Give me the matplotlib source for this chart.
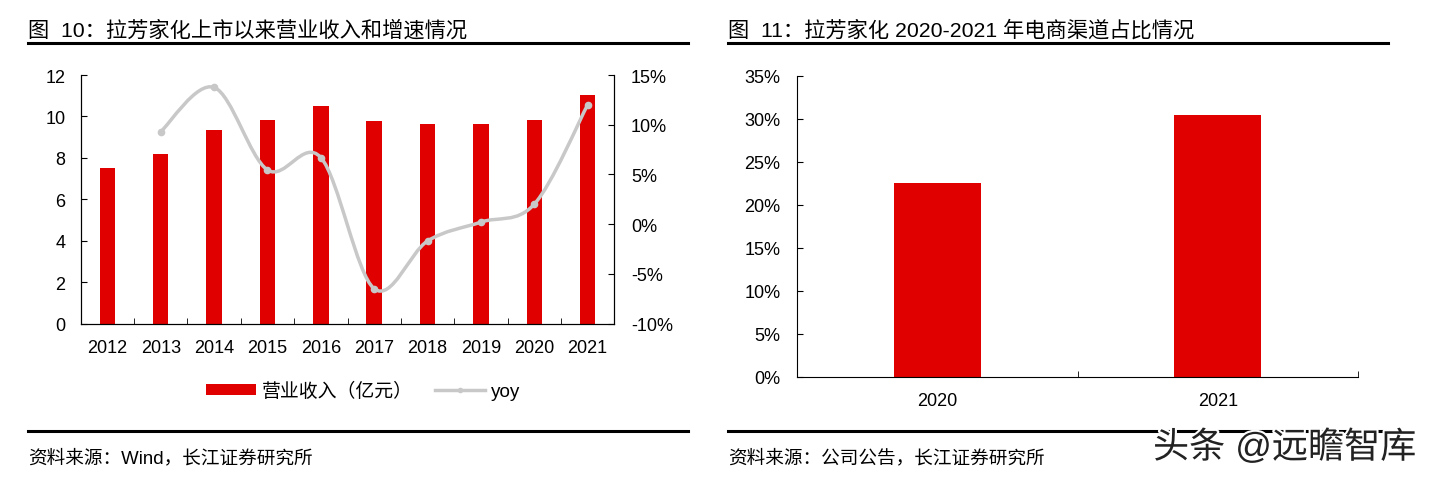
import numpy as np
import matplotlib.pyplot as plt
import matplotlib.patheffects as pe
from matplotlib.path import Path
from matplotlib.patches import PathPatch
from matplotlib.lines import Line2D
from matplotlib.ticker import FuncFormatter, MultipleLocator

plt.rcParams['font.family'] = ['Liberation Sans', 'Noto Sans CJK SC']

# data
years = ['2012', '2013', '2014', '2015', '2016', '2017', '2018', '2019', '2020', '2021']
revenue = [7.50, 8.19, 9.33, 9.85, 10.49, 9.80, 9.65, 9.65, 9.85, 11.04]   # 亿元
yoy = [9.3, 13.75, 5.45, 6.7, -6.5, -1.7, 0.2, 2.0, 12.0]                 # %, from 2013
ec_years = ['2020', '2021']
ec_share = [22.5, 30.4]                                                    # %

W, H = 1430, 481
red = '#E00000'
grey = '#C8C8C8'


def fx(x):
    return x / W


def fy(y):
    return 1 - y / H


fig = plt.figure(figsize=(W / 100, H / 100), dpi=100)
pct = FuncFormatter(lambda v, p: f'{v:.0f}%')

# ---------- left chart ----------
ax1 = fig.add_axes([fx(80.7), fy(324.5), fx(614.3) - fx(80.7), fy(76) - fy(324.5)])
x = np.arange(len(years))
bars = ax1.bar(x, revenue, width=0.29, color=red, zorder=2)
ax1.set_xlim(-0.5, len(years) - 0.5)
ax1.set_ylim(0, 12)
ax1.set_yticks(range(0, 13, 2))
ax1.set_xticks(x)
ax1.set_xticklabels(years)
ax1.set_xticks(np.arange(-0.5, len(years), 1), minor=True)
ax1.tick_params(axis='x', which='major', length=0, pad=11, labelsize=13)
ax1.tick_params(axis='x', which='minor', length=4, direction='in')
ax1.tick_params(axis='y', length=4, direction='in', pad=11, labelsize=13)
ax1.spines['top'].set_visible(False)

ax2 = ax1.twinx()
ax2.set_ylim(-10, 15)
ax2.yaxis.set_major_locator(MultipleLocator(5))
ax2.yaxis.set_major_formatter(pct)
ax2.tick_params(axis='y', length=4, direction='in', pad=12, labelsize=13)
ax2.spines['top'].set_visible(False)

# smoothed yoy line (bezier path through the data points)
pts = np.column_stack([x[1:], yoy]).astype(float)
verts = [pts[0]]
codes = [Path.MOVETO]
for i in range(len(pts) - 1):
    p0 = pts[i - 1] if i > 0 else pts[i]
    p1 = pts[i]
    p2 = pts[i + 1]
    p3 = pts[i + 2] if i + 2 < len(pts) else pts[i + 1]
    verts += [p1 + (p2 - p0) / 6, p2 - (p3 - p1) / 6, p2]
    codes += [Path.CURVE4] * 3
ax2.add_patch(PathPatch(Path(verts, codes), fill=False, edgecolor=grey, lw=2.5, zorder=3))
ax2.plot(x[1:], yoy, ls='none', marker='o', ms=4.5, color=grey, zorder=4)

line_handle = Line2D([], [], color=grey, lw=2.5, marker='o', ms=3)
ax1.legend([bars, line_handle], ['营业收入（亿元）', 'yoy'], loc='center',
           bbox_to_anchor=(fx(363), fy(392)), bbox_transform=fig.transFigure,
           ncol=2, frameon=False, handlelength=2.65, handleheight=0.5,
           columnspacing=1.2, handletextpad=0.28, fontsize=13.6)

# ---------- right chart ----------
ax3 = fig.add_axes([fx(797), fy(377.5), fx(1358) - fx(797), fy(77) - fy(377.5)])
x2 = np.arange(len(ec_years))
ax3.bar(x2, ec_share, width=0.31, color=red, zorder=2)
ax3.set_xlim(-0.5, len(ec_years) - 0.5)
ax3.set_ylim(0, 35)
ax3.yaxis.set_major_locator(MultipleLocator(5))
ax3.yaxis.set_major_formatter(pct)
ax3.set_xticks(x2)
ax3.set_xticklabels(ec_years)
ax3.set_xticks(np.arange(-0.5, len(ec_years), 1), minor=True)
ax3.tick_params(axis='x', which='major', length=0, pad=11, labelsize=13)
ax3.tick_params(axis='x', which='minor', length=4, direction='in')
ax3.tick_params(axis='y', length=4, direction='in', pad=12, labelsize=13)
ax3.spines['top'].set_visible(False)
ax3.spines['right'].set_visible(False)

# ---------- titles, rules, sources ----------
for x0, x1, title, src in [
    (28, 688, '图  10：拉芳家化上市以来营业收入和增速情况', '资料来源：Wind，长江证券研究所'),
    (728, 1388, '图  11：拉芳家化 2020-2021 年电商渠道占比情况', '资料来源：公司公告，长江证券研究所'),
]:
    fig.text(fx(x0), fy(30), title, fontsize=15.3, va='center', ha='left')
    fig.add_artist(Line2D([fx(x0), fx(x1)], [fy(44), fy(44)], color='black', lw=2.2))
    fig.add_artist(Line2D([fx(x0), fx(x1)], [fy(431.5), fy(431.5)], color='black', lw=2.2))
    fig.text(fx(x0), fy(458), src, fontsize=13.4, va='center', ha='left')

fig.text(fx(1153), fy(449), '头条 @远瞻智库', fontsize=26, va='center', ha='left', color='#222222',
         path_effects=[pe.withStroke(linewidth=3, foreground='white')])

fig.savefig('out.png', dpi=100)
